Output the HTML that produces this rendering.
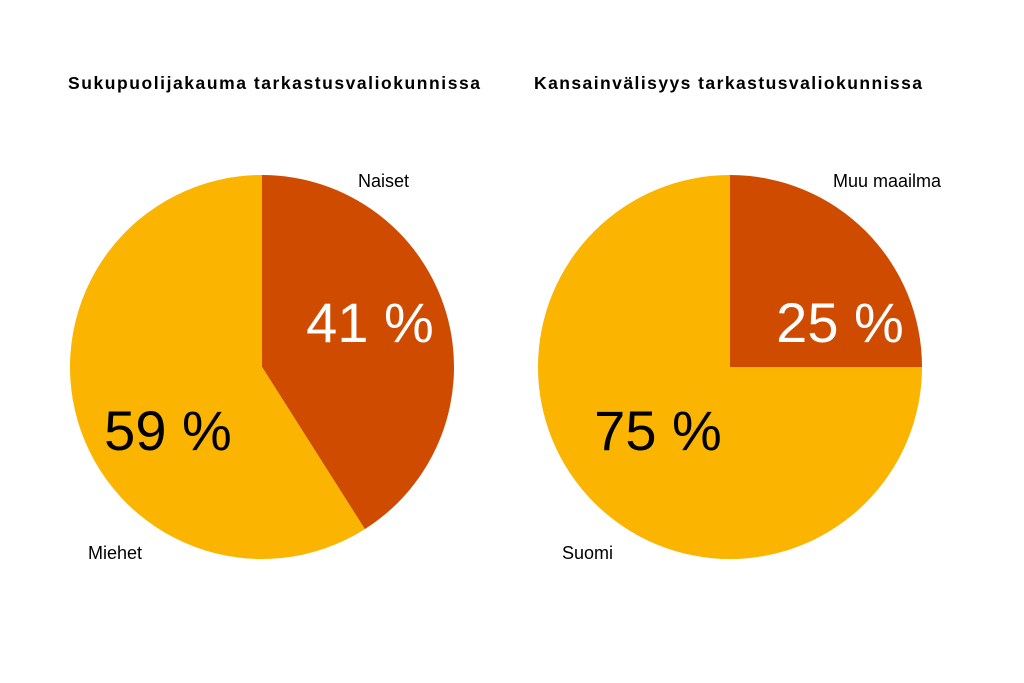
<!DOCTYPE html>
<html><head><meta charset="utf-8"><style>
html,body{margin:0;padding:0;background:#fff;}
svg{display:block;font-family:"Liberation Sans",Arial,sans-serif;}
</style></head><body>
<svg id="chart" width="1024" height="683" viewBox="0 0 1024 683">
<text x="68" y="89" font-size="17.5" font-weight="bold" textLength="412">Sukupuolijakauma tarkastusvaliokunnissa</text>
<text x="534" y="89" font-size="17.5" font-weight="bold" textLength="388">Kansainvälisyys tarkastusvaliokunnissa</text>
</svg>
<script>
const genderCategories = ["Naiset", "Miehet"];
const genderValues = [41, 59];
const intlCategories = ["Muu maailma", "Suomi"];
const intlValues = [25, 75];

const colors = ["#CF4B00", "#FBB400"];
const svg = document.getElementById('chart');
const NS = 'http://www.w3.org/2000/svg';

function drawPie(cx, cy, r, cats, vals, prefix, catPos, pctPos) {
  const total = vals.reduce((a, b) => a + b, 0);
  let a0 = 0;
  vals.forEach((v, i) => {
    const a1 = a0 + v / total * 2 * Math.PI;
    const x0 = cx + r * Math.sin(a0), y0 = cy - r * Math.cos(a0);
    const x1 = cx + r * Math.sin(a1), y1 = cy - r * Math.cos(a1);
    const large = (a1 - a0) > Math.PI ? 1 : 0;
    const p = document.createElementNS(NS, 'path');
    p.setAttribute('d', `M${cx},${cy} L${x0},${y0} A${r},${r} 0 ${large} 1 ${x1},${y1} Z`);
    p.setAttribute('fill', colors[i]);
    
    
    svg.appendChild(p);
    a0 = a1;
  });
  vals.forEach((v, i) => {
    const t = document.createElementNS(NS, 'text');
    t.setAttribute('x', pctPos[i][0]); t.setAttribute('y', pctPos[i][1]);
    t.setAttribute('font-size', '56');
    t.setAttribute('text-anchor', 'middle');
    t.setAttribute('fill', i === 0 ? '#fff' : '#000');
    t.textContent = v + ' %';
    
    
    svg.appendChild(t);
    const c = document.createElementNS(NS, 'text');
    c.setAttribute('x', catPos[i][0]); c.setAttribute('y', catPos[i][1]);
    c.setAttribute('font-size', '18');
    c.textContent = cats[i];
    
    
    svg.appendChild(c);
  });
}

drawPie(262, 367, 192, genderCategories, genderValues, 'gender',
  [[358, 187], [88, 559]], [[370, 342], [168, 450]]);
drawPie(730, 367, 192, intlCategories, intlValues, 'intl',
  [[833, 187], [562, 559]], [[840, 342], [658, 450]]);
</script>
</body></html>
